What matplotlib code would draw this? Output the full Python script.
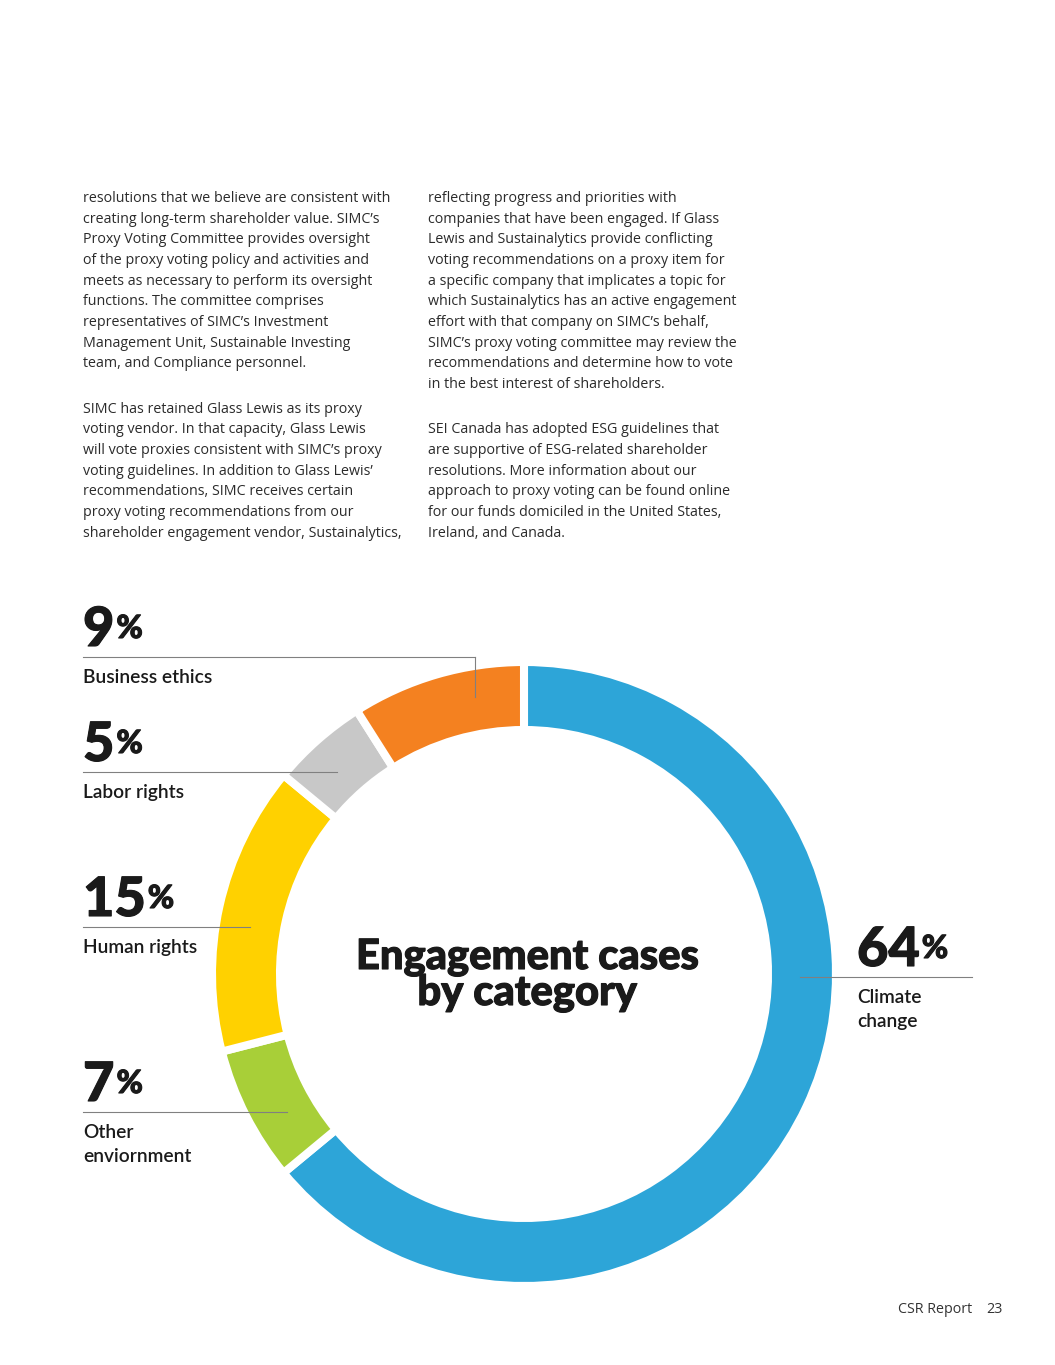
import matplotlib
matplotlib.use('Agg')
import matplotlib.pyplot as plt
import matplotlib.patheffects as pe

W, H = 1055, 1365

# chart data
categories = ['Climate\nchange', 'Other\nenviornment', 'Human rights', 'Labor rights', 'Business ethics']
shares = [64, 7, 15, 5, 9]
colors = ['#2da5d8', '#a8cf38', '#ffd100', '#c8c8c8', '#f48120']

col1 = [
    "resolutions that we believe are consistent with",
    "creating long-term shareholder value. SIMC\u2019s",
    "Proxy Voting Committee provides oversight",
    "of the proxy voting policy and activities and",
    "meets as necessary to perform its oversight",
    "functions. The committee comprises",
    "representatives of SIMC\u2019s Investment",
    "Management Unit, Sustainable Investing",
    "team, and Compliance personnel.",
    "",
    "SIMC has retained Glass Lewis as its proxy",
    "voting vendor. In that capacity, Glass Lewis",
    "will vote proxies consistent with SIMC\u2019s proxy",
    "voting guidelines. In addition to Glass Lewis\u2019",
    "recommendations, SIMC receives certain",
    "proxy voting recommendations from our",
    "shareholder engagement vendor, Sustainalytics,",
]
col2 = [
    "reflecting progress and priorities with",
    "companies that have been engaged. If Glass",
    "Lewis and Sustainalytics provide conflicting",
    "voting recommendations on a proxy item for",
    "a specific company that implicates a topic for",
    "which Sustainalytics has an active engagement",
    "effort with that company on SIMC\u2019s behalf,",
    "SIMC\u2019s proxy voting committee may review the",
    "recommendations and determine how to vote",
    "in the best interest of shareholders.",
    "",
    "SEI Canada has adopted ESG guidelines that",
    "are supportive of ESG-related shareholder",
    "resolutions. More information about our",
    "approach to proxy voting can be found online",
    "for our funds domiciled in the United States,",
    "Ireland, and Canada.",
]

# layout of the callouts (pixel rows of the leader lines)
callout_line_y = [977, 1112, 927, 772, 657]
callout_x0 = [800, 83, 83, 83, 83]
callout_x1 = [972, 287, 250, 337, 475]

fig = plt.figure(figsize=(W / 100, H / 100), dpi=100)
ax = fig.add_axes([0, 0, 1, 1])

def Y(y):
    return H - y

ink = '#1a1a1a'
heavy = [pe.withStroke(linewidth=0.8, foreground=ink)]

cx, cy, R = 524, 974, 312
ax.pie(shares, colors=colors, startangle=90, counterclock=False,
       radius=R, center=(cx, Y(cy)),
       wedgeprops=dict(width=68, edgecolor='white', linewidth=5.8))
ax.set_xlim(0, W)
ax.set_ylim(0, H)
ax.set_aspect('equal')
ax.axis('off')

body = dict(family='Open Sans', fontsize=10.3, color='#2b2b2b', va='baseline')
for i, line in enumerate(col1):
    yb = 202 + i * 20.67 + (4 if i >= 10 else 0)
    ax.text(83, Y(yb), line, **body)
for i, line in enumerate(col2):
    yb = 202 + i * 20.67 + (4 if i >= 11 else 0)
    ax.text(428, Y(yb), line, **body)

for k in range(len(categories)):
    ly = callout_line_y[k]
    ax.plot([callout_x0[k], callout_x1[k]], [Y(ly), Y(ly)], color='#808080', lw=0.8)
    if k == 4:
        ax.plot([callout_x1[k], callout_x1[k]], [Y(ly), Y(697)], color='#808080', lw=0.8)
    tx = 857 if k == 0 else 83
    num = ax.text(tx, Y(ly - 11), str(shares[k]), family='Lato', weight='black',
                  fontsize=39, color=ink, va='baseline', ha='left', path_effects=heavy)
    fig.canvas.draw()
    bb = num.get_window_extent()
    ax.text(bb.x1 + 2, Y(ly - 19), '%', family='Lato', weight='black',
            fontsize=23, color=ink, va='baseline', ha='left', path_effects=heavy)
    for j, part in enumerate(categories[k].split('\n')):
        ax.text(tx, Y(ly + 26 + j * 24), part, family='Lato', weight='semibold',
                fontsize=13.8, color=ink, va='baseline', ha='left')

ax.text(527, Y(969), 'Engagement cases', family='Lato', weight='black',
        fontsize=30, color=ink, ha='center', va='baseline', path_effects=heavy)
ax.text(527, Y(1005), 'by category', family='Lato', weight='black',
        fontsize=30, color=ink, ha='center', va='baseline', path_effects=heavy)

ax.text(972, Y(1313), 'CSR Report', family='Open Sans', fontsize=10.3,
        color='#333333', ha='right', va='baseline')
ax.text(1003, Y(1313), '23', family='Open Sans', fontsize=10.3,
        color='#333333', ha='right', va='baseline')

fig.savefig('out.png', dpi=100, facecolor='white')
